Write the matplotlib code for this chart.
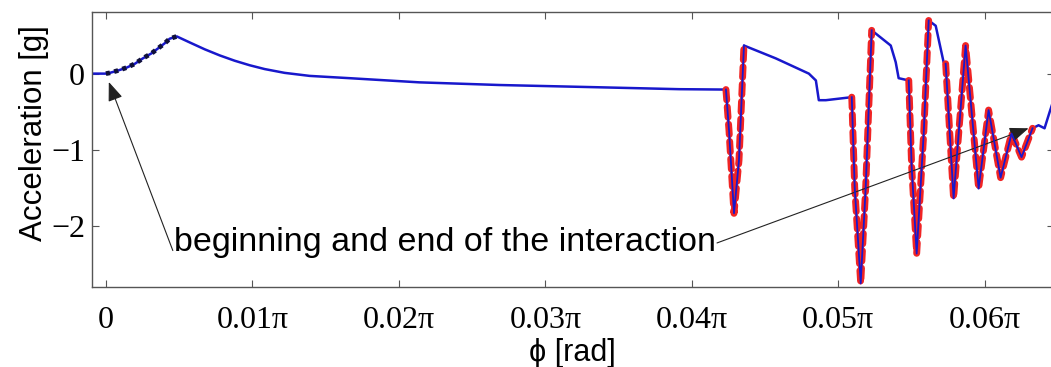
import numpy as np
import matplotlib
matplotlib.use("Agg")
import matplotlib.pyplot as plt

# rotation angle in units of pi, acceleration in g
phi_pi = [-0.00095, 0.0, 0.00027, 0.00082, 0.00143, 0.00198, 0.00252, 0.00314,
          0.00368, 0.00402, 0.00436, 0.00484, 0.00573, 0.00675, 0.00777, 0.00879,
          0.00982, 0.01084, 0.01220, 0.01391, 0.01663, 0.02140, 0.02686, 0.03367,
          0.03913, 0.04233, 0.04254, 0.04288, 0.04322, 0.04356, 0.04574, 0.04799,
          0.04847, 0.04867, 0.04915, 0.05092, 0.05112, 0.05153, 0.05187, 0.05228,
          0.05358, 0.05392, 0.05412, 0.05481, 0.05501, 0.05535, 0.05583, 0.05617,
          0.05665, 0.05719, 0.05733, 0.05787, 0.05869, 0.05958, 0.06026, 0.06108,
          0.06183, 0.06251, 0.06326, 0.06367, 0.06408, 0.06442, 0.06469]
accel = [0.01, 0.01, 0.02, 0.05, 0.09, 0.14, 0.21, 0.28,
         0.36, 0.41, 0.47, 0.50, 0.42, 0.33, 0.25, 0.18,
         0.12, 0.07, 0.02, -0.02, -0.05, -0.105, -0.14, -0.17,
         -0.195, -0.20, -0.74, -1.83, -1.13, 0.38, 0.21, 0.01,
         -0.08, -0.34, -0.34, -0.30, -1.49, -2.75, -1.49, 0.58,
         0.38, 0.16, -0.05, -0.08, -1.22, -2.36, -0.78, 0.71,
         0.64, 0.16, 0.14, -1.63, 0.38, -1.50, -0.47, -1.36,
         -0.78, -1.09, -0.71, -0.67, -0.71, -0.50, -0.34]

# phi intervals (units of pi) of the highlighted parts
ramp_window = (0.0, 0.00484)
contact_windows = [(0.04233, 0.04356), (0.05092, 0.05228),
                   (0.05481, 0.05617), (0.05733, 0.06326)]

xtick_vals = [0.0, 0.01, 0.02, 0.03, 0.04, 0.05, 0.06]
xtick_labels = ["0", "0.01π", "0.02π", "0.03π", "0.04π", "0.05π", "0.06π"]
ytick_vals = [0, -1, -2]

note = "beginning and end of the interaction"
note_pos = (0.02314, -2.22)
start_tip, start_tail = (0.0002, -0.10), (0.00457, -2.32)
end_tip, end_tail = (0.06299, -0.71), (0.04172, -2.22)

phi = np.array(phi_pi) * np.pi
acc = np.array(accel)

fig = plt.figure(figsize=(10.51, 3.67), dpi=100)
ax = fig.add_axes([0.0875, 0.218, 0.915, 0.749])

ax.plot(phi, acc, color="#1818cc", lw=1.8, zorder=2)

m = (np.array(phi_pi) >= ramp_window[0]) & (np.array(phi_pi) <= ramp_window[1])
ax.plot(phi[m], acc[m], color="#10103a", lw=3.4, ls=(0, (0.9, 0.9)), zorder=3)

for lo, hi in contact_windows:
    m = (np.array(phi_pi) >= lo - 1e-7) & (np.array(phi_pi) <= hi + 1e-7)
    ax.plot(phi[m], acc[m], color="#f02424", lw=5.0, ls=(0, (1.5, 1.0)),
            solid_capstyle="round", dash_capstyle="round", zorder=3)
    ax.plot(phi[m], acc[m], color="#1818cc", lw=1.3, zorder=4)

ax.set_xlim(-0.00095 * np.pi, 0.0647 * np.pi)
ax.set_ylim(-2.80, 0.82)
ax.set_xticks(np.array(xtick_vals) * np.pi)
ax.set_xticklabels(xtick_labels)
ax.set_yticks(ytick_vals)
ax.set_yticklabels(["0", "\u22121", "\u22122"])
ax.tick_params(direction="in", top=True, right=True, length=5, width=0.8,
               color="#555555", pad=14)
ax.tick_params(axis="y", pad=5)
for lab in ax.get_xticklabels() + ax.get_yticklabels():
    lab.set_family(["Liberation Serif", "DejaVu Serif"])
    lab.set_fontsize(23)

for s in ax.spines.values():
    s.set_color("#555555")
    s.set_linewidth(1.0)

ax.set_xlabel("ϕ [rad]", family=["Liberation Sans", "DejaVu Sans"], fontsize=22)
ax.xaxis.set_label_coords(0.5, -0.185)
ax.set_ylabel("Acceleration [g]", family=["Liberation Sans", "DejaVu Sans"],
              fontsize=22.5)
ax.yaxis.set_label_coords(-0.045, 0.56)

ax.text(note_pos[0] * np.pi, note_pos[1], note, ha="center", va="center",
        family=["Liberation Sans", "DejaVu Sans"], fontsize=24.5)
arrow = dict(arrowstyle="-|>,head_length=0.9,head_width=0.35", color="#222222",
             lw=0.8, shrinkA=0, shrinkB=0, mutation_scale=13)
for tip, tail in [(start_tip, start_tail), (end_tip, end_tail)]:
    ax.annotate("", xy=(tip[0] * np.pi, tip[1]),
                xytext=(tail[0] * np.pi, tail[1]), arrowprops=arrow)

fig.savefig("out.png", dpi=100)
